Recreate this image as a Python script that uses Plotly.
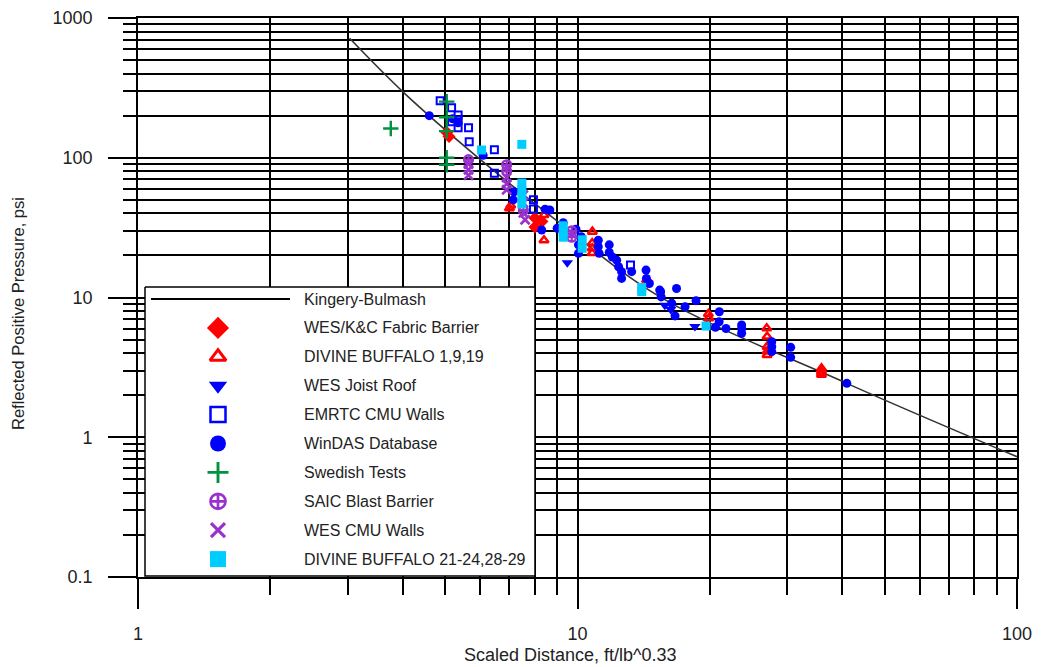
import plotly.graph_objects as go

# ---------------- data ----------------
kb_x = [3.03, 4.04, 5.9, 9.12, 15.4, 41.0, 100.0]
kb_y = [716, 289, 102, 34.0, 10.1, 2.43, 0.726]

wkc_x = [5.04, 5.1, 8.0, 8.0, 8.3, 14.4]
wkc_y = [152, 142, 37, 32, 35, 13.0]

db1_x = [7.0, 7.05, 8.39, 8.39, 10.81, 10.8, 10.8, 10.8, 19.85, 19.9, 26.95, 27.0, 27.0, 27.0, 27.0, 35.9, 35.9, 35.9, 35.9]
db1_y = [43.5, 45.5, 38.9, 25.7, 29.6, 24.5, 22.5, 20.8, 7.62, 7.1, 6.02, 5.25, 4.45, 4.1, 3.88, 3.11, 3.0, 2.9, 2.8]

joist_x = [9.48, 15.8, 16.3, 18.5]
joist_y = [17.7, 8.8, 8.2, 6.2]

emrtc_x = [4.87, 5.17, 5.35, 5.17, 5.35, 5.35, 5.65, 5.67, 6.47, 6.47, 7.94, 7.94, 13.2]
emrtc_y = [256, 228, 202, 181, 186, 164, 164, 130, 114, 77.5, 50, 43, 17.1]

windas_x = [4.6, 5.2, 5.35, 6.1, 7.14, 7.17, 8.44, 8.65, 8.29, 9.28,
            8.99, 9.92, 10.2, 10.05, 10.05, 11.15, 11.15, 11.2, 11.81, 11.81,
            12.0, 12.28, 12.4, 12.6, 12.6, 13.28, 14.32, 14.35, 14.57, 15.38,
            15.46, 15.5, 16.8, 16.38, 17.57, 16.67, 18.61, 21.02, 21.0, 20.6,
            21.77, 23.63, 23.63, 23.63, 27.67, 27.67, 27.67, 30.55, 30.55, 41.0]
windas_y = [200, 190, 178, 104, 50, 57, 42.8, 42.3, 30.4, 34.3,
            31.3, 30.8, 27.2, 23.8, 20.7, 25.7, 23.1, 20.7, 23.8, 21.0,
            19.5, 18.5, 16.6, 15.3, 13.7, 15.3, 15.7, 13.7, 12.6, 11.3,
            11.0, 10.1, 11.6, 9.09, 8.59, 7.38, 9.49, 7.91, 6.71, 6.12,
            6.0, 6.36, 5.55, 6.0, 4.83, 4.45, 4.1, 4.40, 3.73, 2.43]

swed_x = [3.76, 5.04, 5.04, 5.04, 5.04, 5.04]
swed_y = [162, 252, 195, 155, 100, 89]

saic_x = [5.65, 6.9, 6.9, 7.53, 9.7, 9.7]
saic_y = [97, 89, 80, 42, 30, 27]

wescmu_x = [5.65, 5.65, 5.65, 6.9, 6.9, 6.9, 7.53, 7.53, 7.53, 7.6]
wescmu_y = [90, 82, 75, 72, 65, 59, 54, 47.5, 40.3, 36]

db2_x = [6.05, 7.47, 7.47, 7.47, 7.47, 7.47, 9.28, 9.28, 9.28, 10.25, 10.25, 14.0, 14.0, 19.61]
db2_y = [113.6, 124.7, 65.9, 58.7, 52.4, 46.7, 32.6, 29.5, 27.0, 25.9, 22.5, 11.8, 11.0, 6.25]

x_ticks = [1, 10, 100]
x_tick_labels = ["1", "10", "100"]
y_ticks = [0.1, 1, 10, 100, 1000]
y_tick_labels = ["0.1", "1", "10", "100", "1000"]

x_title = "Scaled Distance, ft/lb^0.33"
y_title = "Reflected Positive Pressure, psi"

legend_names = ["Kingery-Bulmash", "WES/K&C Fabric Barrier", "DIVINE BUFFALO 1,9,19",
                "WES Joist Roof", "EMRTC CMU Walls", "WinDAS Database", "Swedish Tests",
                "SAIC Blast Barrier", "WES CMU Walls", "DIVINE BUFFALO 21-24,28-29"]

# ---------------- styles ----------------
RED, BLUE, GREEN, PURPLE, CYAN = "#FF0000", "#0000FF", "#00923F", "#9932CC", "#00CCFF"
FONT = "Liberation Sans, Arial, sans-serif"
TXT = "#222222"

series = [
    (wkc_x, wkc_y, dict(symbol="diamond", color=RED, size=10, line=dict(width=0)), 7),
    (db1_x, db1_y, dict(symbol="triangle-up-open", color=RED, size=8, line=dict(width=2.5)), 6),
    (joist_x, joist_y, dict(symbol="triangle-down", color=BLUE, size=10, line=dict(width=0)), 6),
    (emrtc_x, emrtc_y, dict(symbol="square-open", color=BLUE, size=7, line=dict(width=2)), 8),
    (windas_x, windas_y, dict(symbol="circle", color=BLUE, size=9, line=dict(width=0)), 7),
    (swed_x, swed_y, dict(symbol="cross-thin-open", color=GREEN, size=11, line=dict(width=2.4, color=GREEN)), 4),
    (saic_x, saic_y, dict(symbol="circle-cross-open", color=PURPLE, size=9, line=dict(width=2.2)), 6),
    (wescmu_x, wescmu_y, dict(symbol="x-thin-open", color=PURPLE, size=9, line=dict(width=2.6, color=PURPLE)), 5),
    (db2_x, db2_y, dict(symbol="square", color=CYAN, size=9, line=dict(width=0)), 7),
]

fig = go.Figure()

# Kingery-Bulmash curve
fig.add_trace(go.Scatter(x=kb_x, y=kb_y, mode="lines", line=dict(color="#333333", width=1.6, shape="spline"),
                         showlegend=False, hoverinfo="skip"))

for xs, ys, mk, _ in series:
    fig.add_trace(go.Scatter(x=xs, y=ys, mode="markers", marker=mk, showlegend=False))

# ---------------- page geometry (page body has an 8px margin) ----------------
PAGE_OFF = 8
W, H = 1041 - PAGE_OFF, 667 - PAGE_OFF
L, R, T, B = 138, 1017, 18, 577          # plot area in page pixels

# ---------------- hand-drawn legend on an overlay pixel-space axis ----------------
box = dict(x0=145, x1=535, y0=287, y1=576)
fig.add_trace(go.Scatter(x=[box["x0"], box["x1"], box["x1"], box["x0"], box["x0"]],
                         y=[box["y0"], box["y0"], box["y1"], box["y1"], box["y0"]],
                         mode="lines", fill="toself", fillcolor="white",
                         line=dict(color="black", width=1.5), xaxis="x2", yaxis="y2",
                         showlegend=False, hoverinfo="skip"))
row0, row_step, sym_x, text_x = 299, 28.9, 218, 302
fig.add_trace(go.Scatter(x=[151, 290], y=[row0, row0], mode="lines",
                         line=dict(color="black", width=2), xaxis="x2", yaxis="y2",
                         showlegend=False, hoverinfo="skip"))
for i, (_, _, mk, grow) in enumerate(series, start=1):
    big = dict(mk)
    big["size"] = mk["size"] + grow
    ln = dict(mk.get("line", {}))
    if ln.get("width", 0) > 0:
        ln["width"] = ln["width"] + 0.5
    big["line"] = ln
    fig.add_trace(go.Scatter(x=[sym_x], y=[row0 + row_step * i], mode="markers", marker=big,
                             xaxis="x2", yaxis="y2", showlegend=False, hoverinfo="skip"))
for i, name in enumerate(legend_names):
    fig.add_annotation(x=text_x, y=row0 + row_step * i, xref="x2", yref="y2", text=name,
                       showarrow=False, xanchor="left", yanchor="middle",
                       font=dict(family=FONT, size=16, color=TXT))

# axis titles (placed as in the reference)
pw, ph = R - L, B - T
fig.add_annotation(x=(18 - L) / pw, y=(B - 314) / ph, xref="paper", yref="paper", text=y_title,
                   textangle=-90, showarrow=False, xanchor="center", yanchor="middle",
                   font=dict(family=FONT, size=16.5, color=TXT))
fig.add_annotation(x=(570 - L) / pw, y=(B - 655) / ph, xref="paper", yref="paper", text=x_title,
                   showarrow=False, xanchor="center", yanchor="middle",
                   font=dict(family=FONT, size=18, color=TXT))

x_minor = [m * d for d in (1, 10) for m in range(2, 10)]
y_minor = [m * d for d in (0.1, 1, 10, 100) for m in range(2, 10)]

axis_common = dict(type="log", showline=True, linecolor="black", linewidth=1.6, mirror=True,
                   ticks="outside", tickcolor="black", tickwidth=1.6,
                   showgrid=True, gridcolor="black", gridwidth=1.7, zeroline=False,
                   tickfont=dict(family=FONT, size=18, color=TXT))

fig.update_layout(
    width=W, height=H,
    margin=dict(l=L - PAGE_OFF, r=W - (R - PAGE_OFF), t=T - PAGE_OFF, b=H - (B - PAGE_OFF), autoexpand=False),
    paper_bgcolor="white", plot_bgcolor="white",
    font=dict(family=FONT, color=TXT),
    showlegend=False,
    xaxis=dict(axis_common, range=[0, 2], tickvals=x_ticks, ticktext=x_tick_labels, ticklen=30,
               ticklabelstandoff=10,
               minor=dict(tickvals=x_minor, ticks="outside", ticklen=16, tickcolor="black", tickwidth=1.6,
                          showgrid=True, gridcolor="black", gridwidth=1.7)),
    yaxis=dict(axis_common, range=[-1, 3], tickvals=y_ticks, ticktext=y_tick_labels, ticklen=28,
               ticklabelstandoff=12,
               minor=dict(tickvals=y_minor, ticks="outside", ticklen=13, tickcolor="black", tickwidth=1.6,
                          showgrid=True, gridcolor="black", gridwidth=1.7)),
    xaxis2=dict(range=[L, R], overlaying="x", anchor="y2", visible=False, fixedrange=True),
    yaxis2=dict(range=[B, T], overlaying="y", anchor="x2", visible=False, fixedrange=True),
)

fig.write_html("out.html")
